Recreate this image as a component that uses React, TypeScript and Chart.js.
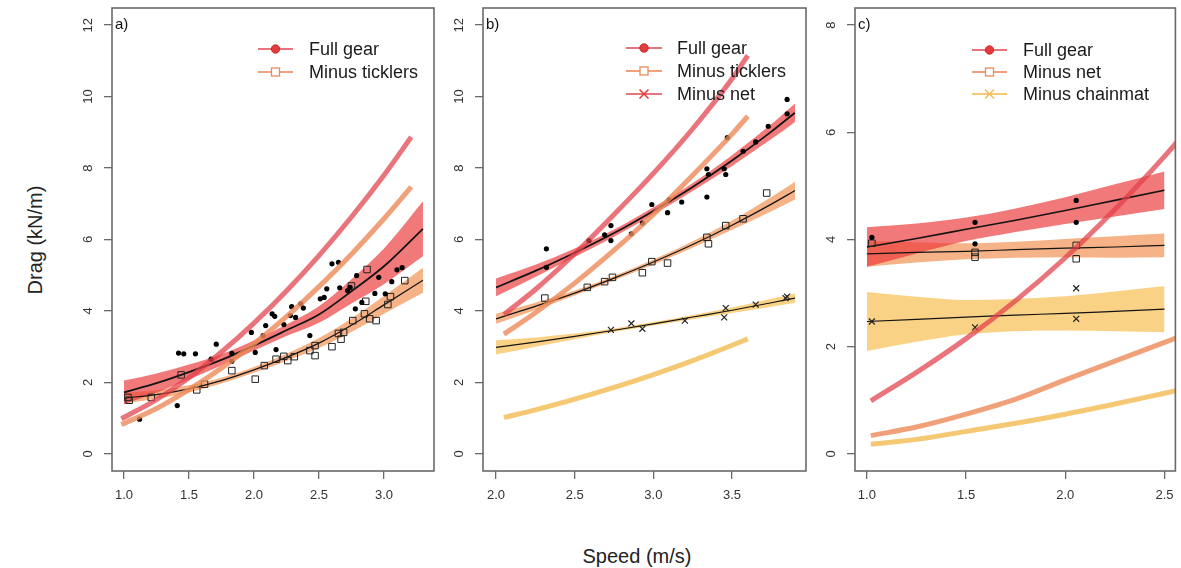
import React, { useEffect, useRef } from "react";
import { Chart, registerables } from "chart.js";

Chart.register(...registerables);

const FONT = "'Liberation Sans', Arial, Helvetica, sans-serif";

// ---------- Panel a ----------
const aFullGearSpeed = [1.12, 1.41, 1.42, 1.46, 1.55, 1.71, 1.67, 1.83, 1.83, 1.98, 2.01, 2.07, 2.09, 2.14, 2.16, 2.17, 2.23, 2.29, 2.28, 2.32, 2.36, 2.38, 2.43, 2.51, 2.54, 2.56, 2.6, 2.65, 2.66, 2.72, 2.74, 2.79, 2.78, 2.83, 2.93, 2.96, 3.01, 3.06, 3.1, 3.14];
const aFullGearDrag = [0.97, 1.35, 2.82, 2.8, 2.8, 3.07, 2.65, 2.81, 2.59, 3.4, 2.84, 3.31, 3.59, 3.92, 3.85, 2.92, 3.62, 4.12, 3.87, 3.82, 4.2, 4.08, 3.31, 4.34, 4.38, 4.62, 5.32, 5.36, 4.65, 4.57, 4.66, 4.99, 4.06, 4.24, 4.49, 4.94, 4.48, 4.82, 5.15, 5.21];
const aTicklersSpeed = [1.03, 1.04, 1.21, 1.44, 1.56, 1.62, 1.83, 2.01, 2.08, 2.17, 2.23, 2.26, 2.31, 2.43, 2.47, 2.47, 2.6, 2.65, 2.69, 2.67, 2.76, 2.75, 2.87, 2.86, 2.85, 2.89, 2.94, 3.05, 3.03, 3.16];
const aTicklersDrag = [1.58, 1.5, 1.58, 2.21, 1.79, 1.95, 2.33, 2.09, 2.47, 2.65, 2.73, 2.61, 2.72, 2.89, 3.03, 2.75, 3.0, 3.37, 3.4, 3.21, 3.73, 4.7, 5.16, 4.27, 3.92, 3.78, 3.73, 4.4, 4.18, 4.85];

const aCurveSpeed = [1.0, 1.25, 1.5, 1.75, 2.0, 2.25, 2.5, 2.75, 3.0, 3.3];
const aFullFit = [1.72, 1.98, 2.29, 2.63, 3.03, 3.46, 3.9, 4.55, 5.25, 6.3];
const aFullLow = [1.39, 1.71, 2.08, 2.47, 2.89, 3.3, 3.67, 4.21, 4.75, 5.53];
const aFullHigh = [2.05, 2.25, 2.5, 2.79, 3.17, 3.62, 4.13, 4.89, 5.75, 7.07];
const aTickFit = [1.56, 1.66, 1.82, 2.05, 2.35, 2.7, 3.1, 3.6, 4.17, 4.86];
const aTickLow = [1.41, 1.54, 1.72, 1.97, 2.27, 2.6, 2.96, 3.41, 3.92, 4.51];
const aTickHigh = [1.71, 1.78, 1.92, 2.13, 2.43, 2.8, 3.24, 3.79, 4.42, 5.21];

const aPredSpeed = [0.98, 1.25, 1.5, 1.75, 2.0, 2.25, 2.5, 2.75, 3.0, 3.21];
const aFullPred = [0.98, 1.52, 2.13, 2.85, 3.66, 4.56, 5.55, 6.63, 7.8, 8.87];
const aTickPred = [0.82, 1.27, 1.8, 2.4, 3.08, 3.84, 4.68, 5.59, 6.58, 7.47];

// ---------- Panel b ----------
const bFullGearSpeed = [2.32, 2.32, 2.59, 2.69, 2.73, 2.73, 2.86, 2.93, 2.99, 3.09, 3.1, 3.18, 3.34, 3.34, 3.35, 3.45, 3.46, 3.47, 3.57, 3.65, 3.73, 3.85, 3.85];
const bFullGearDrag = [5.74, 5.22, 5.97, 6.13, 6.39, 5.97, 6.16, 6.46, 6.98, 6.75, 7.11, 7.05, 7.19, 7.98, 7.82, 7.98, 7.82, 8.85, 8.47, 8.73, 9.17, 9.92, 9.52];
const bTicklersSpeed = [2.31, 2.58, 2.69, 2.74, 2.93, 2.99, 3.09, 3.34, 3.35, 3.46, 3.57, 3.72];
const bTicklersDrag = [4.36, 4.66, 4.82, 4.94, 5.07, 5.38, 5.34, 6.06, 5.88, 6.39, 6.58, 7.3];
const bNetSpeed = [2.73, 2.86, 2.93, 3.2, 3.45, 3.46, 3.65, 3.84, 3.85];
const bNetDrag = [3.47, 3.65, 3.5, 3.73, 3.82, 4.08, 4.18, 4.36, 4.4];

const bCurveSpeed = [2.0, 2.25, 2.5, 2.75, 3.0, 3.25, 3.5, 3.75, 3.9];
const bFullFit = [4.66, 5.12, 5.63, 6.18, 6.8, 7.47, 8.21, 9.02, 9.55];
const bFullLow = [4.41, 4.95, 5.51, 6.08, 6.7, 7.36, 8.06, 8.81, 9.29];
const bFullHigh = [4.91, 5.29, 5.75, 6.28, 6.9, 7.58, 8.36, 9.23, 9.81];
const bTickFit = [3.78, 4.13, 4.5, 4.92, 5.37, 5.86, 6.4, 6.99, 7.37];
const bTickLow = [3.64, 4.03, 4.43, 4.86, 5.3, 5.77, 6.27, 6.79, 7.12];
const bTickHigh = [3.92, 4.23, 4.57, 4.98, 5.44, 5.95, 6.53, 7.19, 7.62];
const bNetFit = [2.98, 3.13, 3.29, 3.46, 3.64, 3.83, 4.02, 4.23, 4.36];
const bNetLow = [2.78, 3.0, 3.21, 3.41, 3.59, 3.77, 3.94, 4.12, 4.23];
const bNetHigh = [3.18, 3.26, 3.37, 3.51, 3.69, 3.89, 4.1, 4.34, 4.49];

const bPredSpeed = [2.05, 2.25, 2.5, 2.75, 3.0, 3.25, 3.5, 3.6];
const bFullPred = [3.9, 4.6, 5.6, 6.7, 7.85, 9.1, 10.5, 11.15];
const bTickPred = [3.35, 3.95, 4.78, 5.7, 6.7, 7.8, 8.95, 9.45];
const bNetPred = [1.02, 1.23, 1.53, 1.86, 2.22, 2.61, 3.04, 3.22];

// ---------- Panel c ----------
const cFullGearSpeed = [1.025, 1.545, 1.545, 2.055, 2.055];
const cFullGearDrag = [4.04, 4.32, 3.92, 4.73, 4.32];
const cNetSpeed = [1.025, 1.545, 1.545, 2.055, 2.055];
const cNetDrag = [3.93, 3.76, 3.67, 3.89, 3.64];
const cChainSpeed = [1.025, 1.545, 2.055, 2.055];
const cChainDrag = [2.47, 2.36, 3.09, 2.52];

const cCurveSpeed = [1.0, 1.25, 1.5, 1.75, 2.0, 2.25, 2.5];
const cFullFit = [3.86, 4.02, 4.19, 4.36, 4.54, 4.73, 4.92];
const cFullLow = [3.49, 3.74, 3.97, 4.14, 4.29, 4.43, 4.57];
const cFullHigh = [4.23, 4.3, 4.41, 4.58, 4.79, 5.03, 5.27];
const cNetFit = [3.73, 3.76, 3.78, 3.81, 3.84, 3.86, 3.89];
const cNetLow = [3.49, 3.57, 3.63, 3.66, 3.67, 3.66, 3.67];
const cNetHigh = [3.97, 3.95, 3.93, 3.96, 4.01, 4.06, 4.11];
const cChainFit = [2.47, 2.51, 2.55, 2.59, 2.62, 2.66, 2.7];
const cChainLow = [1.92, 2.09, 2.23, 2.29, 2.3, 2.29, 2.27];
const cChainHigh = [3.02, 2.93, 2.87, 2.89, 2.94, 3.03, 3.13];

const cPredSpeed = [1.02, 1.25, 1.5, 1.75, 2.0, 2.25, 2.5, 2.6];
const cFullPred = [0.99, 1.52, 2.15, 2.86, 3.66, 4.56, 5.55, 5.98];
const cNetPred = [0.34, 0.5, 0.74, 1.02, 1.38, 1.73, 2.08, 2.22];
const cChainPred = [0.18, 0.27, 0.42, 0.57, 0.74, 0.93, 1.13, 1.21];

const yTicksMain = [0, 2, 4, 6, 8, 10, 12];
const yTicksC = [0, 2, 4, 6, 8];

// ---------- styles ----------
const RED_BAND = "rgba(236, 58, 58, 0.68)";
const ORANGE_BAND = "rgba(240, 132, 62, 0.62)";
const YELLOW_BAND = "rgba(247, 186, 72, 0.66)";
const RED_LINE = "rgba(226, 62, 72, 0.72)";
const ORANGE_LINE = "rgba(238, 138, 88, 0.8)";
const YELLOW_LINE = "rgba(243, 190, 92, 0.85)";
const RED_MARK = "rgb(226, 60, 60)";
const ORANGE_MARK = "rgb(236, 140, 90)";
const YELLOW_MARK = "rgb(240, 190, 90)";
const FRAME = "#6a6a6a";
const CANVAS_H = 530;

type Marker = "circle" | "rect" | "crossRot";
type Band = { x: number[]; fit: number[]; low: number[]; high: number[]; color: string; width: number };
type Obs = { x: number[]; y: number[]; marker: Marker };
type Pred = { x: number[]; y: number[]; color: string };
type LegendItem = { label: string; line: string; mark: string; marker: Marker };

type PanelCfg = {
  tag: string;
  canvasLeft: number;
  canvasWidth: number;
  yAxisWidth: number;
  padRight: number;
  xMin: number;
  xMax: number;
  yMin: number;
  yMax: number;
  yTicks: number[];
  legendLine: [number, number];
  legendText: number;
  legendRows: number[];
  legend: LegendItem[];
  bands: Band[];
  obs: Obs[];
  preds: Pred[];
};

const zip = (xs: number[], ys: number[]) => xs.map((x, i) => ({ x, y: ys[i] }));

const panels: PanelCfg[] = [
  {
    tag: "a)",
    canvasLeft: 60,
    canvasWidth: 380,
    yAxisWidth: 52,
    padRight: 6,
    xMin: 0.908,
    xMax: 3.385,
    yMin: -0.48,
    yMax: 12.48,
    yTicks: yTicksMain,
    legendLine: [146, 181],
    legendText: 197,
    legendRows: [49, 72],
    legend: [
      { label: "Full gear", line: RED_LINE, mark: RED_MARK, marker: "circle" },
      { label: "Minus ticklers", line: ORANGE_LINE, mark: ORANGE_MARK, marker: "rect" },
    ],
    bands: [
      { x: aCurveSpeed, fit: aFullFit, low: aFullLow, high: aFullHigh, color: RED_BAND, width: 1.8 },
      { x: aCurveSpeed, fit: aTickFit, low: aTickLow, high: aTickHigh, color: ORANGE_BAND, width: 1.2 },
    ],
    obs: [
      { x: aFullGearSpeed, y: aFullGearDrag, marker: "circle" },
      { x: aTicklersSpeed, y: aTicklersDrag, marker: "rect" },
    ],
    preds: [
      { x: aPredSpeed, y: aFullPred, color: RED_LINE },
      { x: aPredSpeed, y: aTickPred, color: ORANGE_LINE },
    ],
  },
  {
    tag: "b)",
    canvasLeft: 440,
    canvasWidth: 372,
    yAxisWidth: 43,
    padRight: 6,
    xMin: 1.917,
    xMax: 3.97,
    yMin: -0.48,
    yMax: 12.48,
    yTicks: yTicksMain,
    legendLine: [143, 179],
    legendText: 194,
    legendRows: [48, 71, 94],
    legend: [
      { label: "Full gear", line: RED_LINE, mark: RED_MARK, marker: "circle" },
      { label: "Minus ticklers", line: ORANGE_LINE, mark: ORANGE_MARK, marker: "rect" },
      { label: "Minus net", line: RED_LINE, mark: RED_MARK, marker: "crossRot" },
    ],
    bands: [
      { x: bCurveSpeed, fit: bFullFit, low: bFullLow, high: bFullHigh, color: RED_BAND, width: 1.8 },
      { x: bCurveSpeed, fit: bTickFit, low: bTickLow, high: bTickHigh, color: ORANGE_BAND, width: 1.2 },
      { x: bCurveSpeed, fit: bNetFit, low: bNetLow, high: bNetHigh, color: YELLOW_BAND, width: 1.2 },
    ],
    obs: [
      { x: bFullGearSpeed, y: bFullGearDrag, marker: "circle" },
      { x: bTicklersSpeed, y: bTicklersDrag, marker: "rect" },
      { x: bNetSpeed, y: bNetDrag, marker: "crossRot" },
    ],
    preds: [
      { x: bPredSpeed, y: bFullPred, color: RED_LINE },
      { x: bPredSpeed, y: bTickPred, color: ORANGE_LINE },
      { x: bPredSpeed, y: bNetPred, color: YELLOW_LINE },
    ],
  },
  {
    tag: "c)",
    canvasLeft: 812,
    canvasWidth: 369,
    yAxisWidth: 43,
    padRight: 3,
    xMin: 0.94,
    xMax: 2.555,
    yMin: -0.32,
    yMax: 8.32,
    yTicks: yTicksC,
    legendLine: [117, 152],
    legendText: 168,
    legendRows: [50, 72, 94],
    legend: [
      { label: "Full gear", line: RED_LINE, mark: RED_MARK, marker: "circle" },
      { label: "Minus net", line: ORANGE_LINE, mark: ORANGE_MARK, marker: "rect" },
      { label: "Minus chainmat", line: YELLOW_LINE, mark: YELLOW_MARK, marker: "crossRot" },
    ],
    bands: [
      { x: cCurveSpeed, fit: cFullFit, low: cFullLow, high: cFullHigh, color: RED_BAND, width: 1.6 },
      { x: cCurveSpeed, fit: cNetFit, low: cNetLow, high: cNetHigh, color: ORANGE_BAND, width: 1.2 },
      { x: cCurveSpeed, fit: cChainFit, low: cChainLow, high: cChainHigh, color: YELLOW_BAND, width: 1.2 },
    ],
    obs: [
      { x: cFullGearSpeed, y: cFullGearDrag, marker: "circle" },
      { x: cNetSpeed, y: cNetDrag, marker: "rect" },
      { x: cChainSpeed, y: cChainDrag, marker: "crossRot" },
    ],
    preds: [
      { x: cPredSpeed, y: cFullPred, color: RED_LINE },
      { x: cPredSpeed, y: cNetPred, color: ORANGE_LINE },
      { x: cPredSpeed, y: cChainPred, color: YELLOW_LINE },
    ],
  },
];

function buildDatasets(cfg: PanelCfg) {
  const ds: any[] = [];
  const smooth = { cubicInterpolationMode: "monotone", pointRadius: 0, pointHoverRadius: 0 };
  cfg.bands.forEach((b) => {
    ds.push({ ...smooth, data: zip(b.x, b.low), borderWidth: 0, borderColor: "rgba(0,0,0,0)", fill: false, order: 30 });
    ds.push({ ...smooth, data: zip(b.x, b.high), borderWidth: 0, borderColor: "rgba(0,0,0,0)", backgroundColor: b.color, fill: "-1", order: 30 });
  });
  cfg.bands.forEach((b) => {
    ds.push({ ...smooth, data: zip(b.x, b.fit), borderColor: "#141414", borderWidth: b.width, fill: false, order: 20 });
  });
  cfg.obs.forEach((o) => {
    const base: any = { data: zip(o.x, o.y), showLine: false, order: 10, pointStyle: o.marker };
    if (o.marker === "circle") {
      Object.assign(base, { pointRadius: 2.6, pointBackgroundColor: "#000", pointBorderColor: "#000", pointBorderWidth: 0 });
    } else if (o.marker === "rect") {
      Object.assign(base, { pointRadius: 4.6, pointBackgroundColor: "rgba(0,0,0,0)", pointBorderColor: "#222", pointBorderWidth: 1 });
    } else {
      Object.assign(base, { pointRadius: 4.2, pointBackgroundColor: "rgba(0,0,0,0)", pointBorderColor: "#222", pointBorderWidth: 1.2 });
    }
    ds.push(base);
  });
  cfg.preds.forEach((p) => {
    ds.push({ ...smooth, data: zip(p.x, p.y), borderColor: p.color, borderWidth: 5, fill: false, order: 0, borderCapStyle: "butt" });
  });
  return ds;
}

function drawMarker(ctx: CanvasRenderingContext2D, m: Marker, x: number, y: number, color: string) {
  ctx.save();
  if (m === "circle") {
    ctx.beginPath();
    ctx.arc(x, y, 4.2, 0, Math.PI * 2);
    ctx.fillStyle = color;
    ctx.fill();
    ctx.strokeStyle = "rgb(200,40,40)";
    ctx.lineWidth = 1;
    ctx.stroke();
  } else if (m === "rect") {
    ctx.fillStyle = "#fff";
    ctx.fillRect(x - 4, y - 4, 8, 8);
    ctx.strokeStyle = color;
    ctx.lineWidth = 1.3;
    ctx.strokeRect(x - 4, y - 4, 8, 8);
  } else {
    ctx.strokeStyle = color;
    ctx.lineWidth = 1.5;
    ctx.beginPath();
    ctx.moveTo(x - 4.5, y - 4.5);
    ctx.lineTo(x + 4.5, y + 4.5);
    ctx.moveTo(x + 4.5, y - 4.5);
    ctx.lineTo(x - 4.5, y + 4.5);
    ctx.stroke();
  }
  ctx.restore();
}

function makeDecorPlugin(cfg: PanelCfg) {
  return {
    id: "decor",
    afterDraw(chart: any) {
      const { ctx, chartArea } = chart;
      const ys = chart.scales.y;
      ctx.save();
      // frame
      ctx.strokeStyle = FRAME;
      ctx.lineWidth = 1.6;
      ctx.strokeRect(chartArea.left, chartArea.top, chartArea.right - chartArea.left, chartArea.bottom - chartArea.top);
      // y tick labels (rotated, R style)
      ctx.fillStyle = "#333";
      ctx.font = `13px ${FONT}`;
      ctx.textAlign = "center";
      ctx.textBaseline = "middle";
      cfg.yTicks.forEach((v) => {
        const py = ys.getPixelForValue(v);
        ctx.save();
        ctx.translate(chartArea.left - 24, py);
        ctx.rotate(-Math.PI / 2);
        ctx.fillText(String(v), 0, 0);
        ctx.restore();
      });
      // panel tag
      ctx.fillStyle = "#111";
      ctx.font = `15px ${FONT}`;
      ctx.textAlign = "left";
      ctx.fillText(cfg.tag, chartArea.left + 3, 25);
      // legend
      const [l0, l1] = cfg.legendLine;
      cfg.legend.forEach((it, i) => {
        const y = cfg.legendRows[i];
        ctx.strokeStyle = it.line;
        ctx.lineWidth = 2.2;
        ctx.beginPath();
        ctx.moveTo(chartArea.left + l0, y);
        ctx.lineTo(chartArea.left + l1, y);
        ctx.stroke();
        drawMarker(ctx, it.marker, chartArea.left + (l0 + l1) / 2, y, it.mark);
        ctx.fillStyle = "#1a1a1a";
        ctx.font = `18px ${FONT}`;
        ctx.textAlign = "left";
        ctx.textBaseline = "middle";
        ctx.fillText(it.label, chartArea.left + cfg.legendText, y + 1);
      });
      ctx.restore();
    },
  };
}

function Panel({ cfg }: { cfg: PanelCfg }) {
  const ref = useRef<HTMLCanvasElement>(null);
  useEffect(() => {
    if (!ref.current) return;
    const gridOpts = { display: true, drawOnChartArea: false, drawTicks: true, tickLength: 8, color: FRAME, lineWidth: 1.3 };
    const chart = new Chart(ref.current, {
      type: "line",
      data: { datasets: buildDatasets(cfg) },
      options: {
        animation: false,
        responsive: false,
        events: [],
        layout: { padding: { top: 8, right: cfg.padRight, left: 0, bottom: 0 } },
        plugins: { legend: { display: false }, tooltip: { enabled: false } },
        scales: {
          x: {
            type: "linear",
            min: cfg.xMin,
            max: cfg.xMax,
            grid: gridOpts,
            border: { display: false },
            ticks: {
              stepSize: 0.5,
              includeBounds: false,
              autoSkip: false,
              maxRotation: 0,
              minRotation: 0,
              padding: 9,
              color: "#333",
              font: { family: FONT, size: 13 },
              callback: (v: any) => Number(v).toFixed(1),
            },
            afterFit: (s: any) => {
              s.height = CANVAS_H - 471;
              s.paddingLeft = 0;
              s.paddingRight = 0;
            },
          },
          y: {
            type: "linear",
            min: cfg.yMin,
            max: cfg.yMax,
            grid: gridOpts,
            border: { display: false },
            ticks: { stepSize: 2, includeBounds: false, display: false },
            afterFit: (s: any) => {
              s.width = cfg.yAxisWidth;
              s.paddingTop = 0;
              s.paddingBottom = 0;
            },
          },
        },
      } as any,
      plugins: [makeDecorPlugin(cfg)],
    });
    return () => chart.destroy();
  }, [cfg]);
  return (
    <canvas
      ref={ref}
      width={cfg.canvasWidth}
      height={CANVAS_H}
      style={{ position: "absolute", left: cfg.canvasLeft, top: 0, width: cfg.canvasWidth, height: CANVAS_H }}
    />
  );
}

export default function App() {
  return (
    <div style={{ position: "fixed", left: 0, top: 0, width: 1181, height: 568, background: "#fff", overflow: "hidden", fontFamily: FONT }}>
      {panels.map((p) => (
        <Panel key={p.tag} cfg={p} />
      ))}
      <div
        style={{
          position: "absolute",
          left: 637,
          top: 556,
          transform: "translate(-50%, -50%)",
          fontSize: 20,
          color: "#222",
          whiteSpace: "nowrap",
        }}
      >
        Speed (m/s)
      </div>
      <div
        style={{
          position: "absolute",
          left: 35,
          top: 240,
          transform: "translate(-50%, -50%) rotate(-90deg)",
          fontSize: 20,
          color: "#222",
          whiteSpace: "nowrap",
        }}
      >
        Drag (kN/m)
      </div>
    </div>
  );
}
